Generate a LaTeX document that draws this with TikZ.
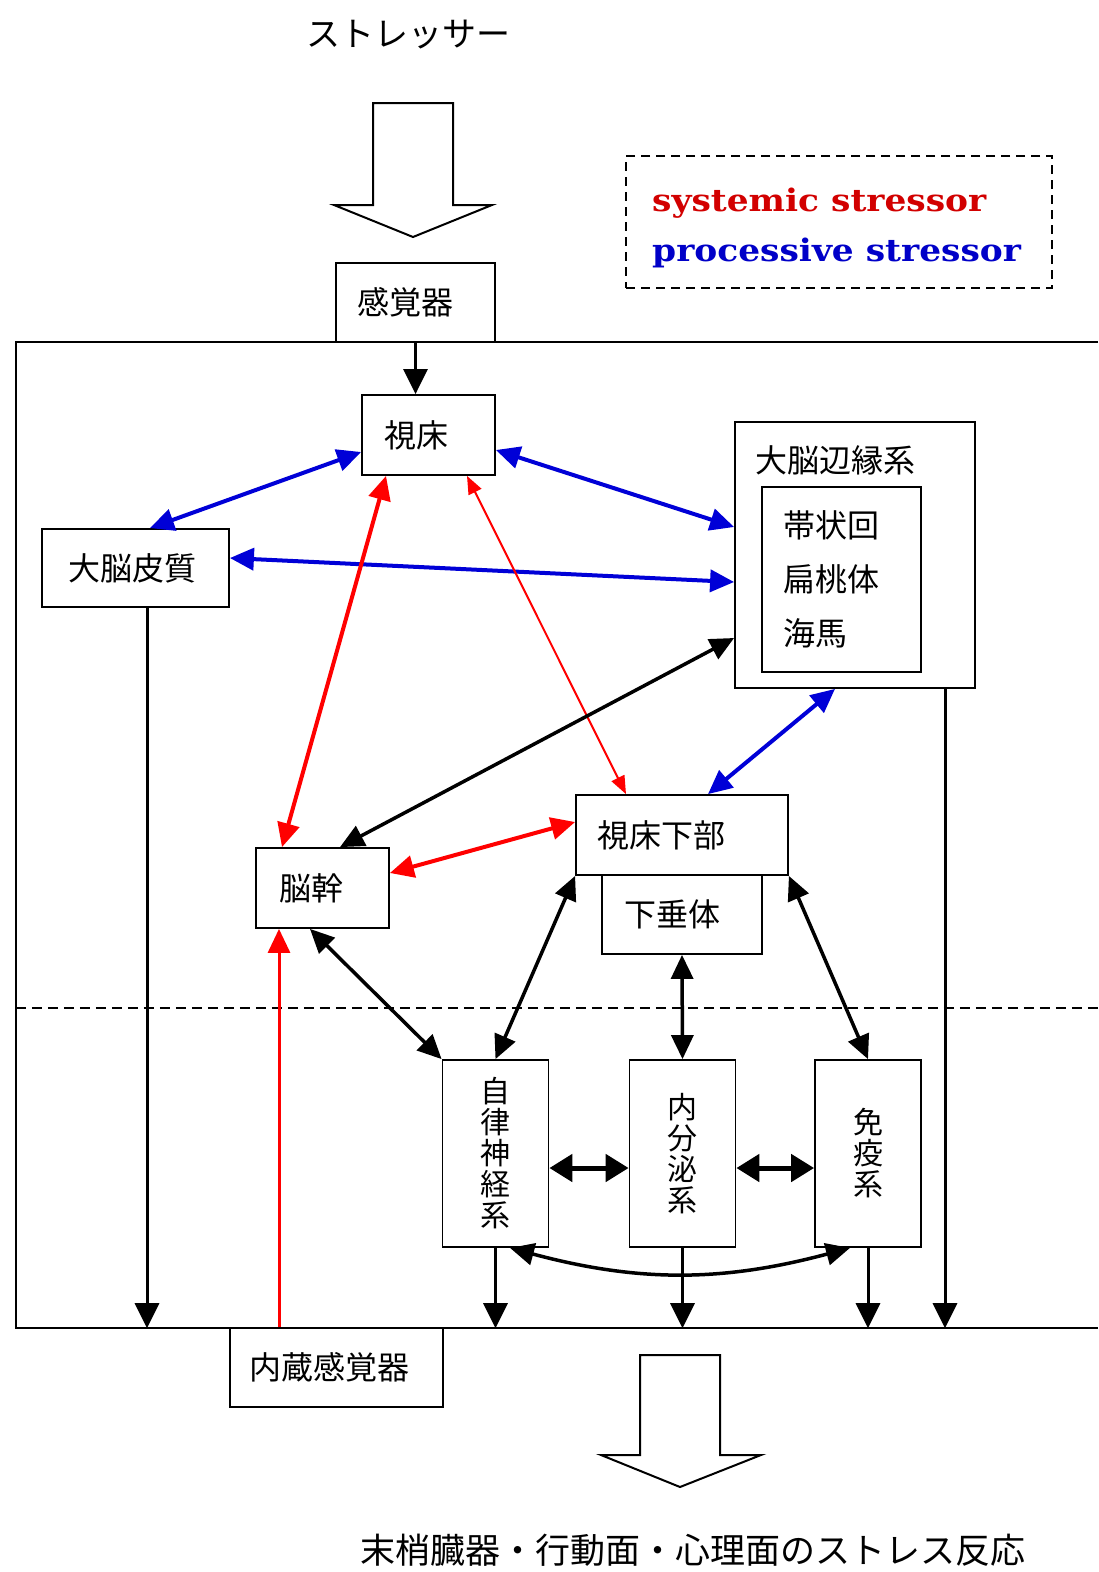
\documentclass[tikz,border=0pt]{standalone}
\usepackage{fontspec}
\newfontfamily\jp{Noto Sans CJK JP}
\newfontfamily\lgd{DejaVu Serif}
\usetikzlibrary{arrows.meta,calc}
\definecolor{arrred}{RGB}{255,0,0}
\definecolor{arrblue}{RGB}{0,0,215}
\definecolor{txtred}{RGB}{210,0,0}
\definecolor{txtblue}{RGB}{0,0,200}
\begin{document}
\begin{tikzpicture}[x=1pt,y=-1pt,
  box/.style={draw, line width=1.8pt, inner ysep=0pt, align=left, font=\jp\fontsize{32}{36}\selectfont},
  vbox/.style={draw, line width=1.8pt, inner sep=0pt, align=center, minimum width=106pt, minimum height=187pt, font=\jp\fontsize{30}{31}\selectfont},
  plain/.style={inner sep=0pt, font=\jp\fontsize{32}{36}\selectfont},
  lgtext/.style={anchor=base west, inner sep=0pt, font=\lgd\bfseries\fontsize{31}{33}\selectfont},
  bl/.style={line width=4pt, draw=arrblue, arrows={Triangle[length=24pt,width=22pt]-Triangle[length=24pt,width=22pt]}},
  rd/.style={line width=4pt, draw=arrred, arrows={Triangle[length=24pt,width=22pt]-Triangle[length=24pt,width=22pt]}},
  rdthin/.style={line width=2pt, draw=arrred, arrows={Triangle[length=18pt,width=14pt]-Triangle[length=18pt,width=14pt]}},
  rdup/.style={line width=3pt, draw=arrred, arrows={-Triangle[length=24pt,width=22pt]}},
  bk/.style={line width=3.5pt, draw=black, arrows={Triangle[length=24pt,width=22pt]-Triangle[length=24pt,width=22pt]}},
  bkshort/.style={line width=5pt, draw=black, arrows={Triangle[length=23pt,width=27pt]-Triangle[length=23pt,width=27pt]}},
  bkdown/.style={line width=3pt, draw=black, arrows={-Triangle[length=25pt,width=24pt]}},
  hollow/.style={draw, line width=2pt, fill=white, line join=miter}
]
\useasboundingbox (0,0) rectangle (1098,1572);
\fill[white] (0,0) rectangle (1098,1572);

% top text and hollow arrow
\node[plain, font=\jp\fontsize{34}{36}\selectfont] (stressor) at (408,35) {ストレッサー};
\draw[hollow] (373,103) -- (453,103) -- (453,205) -- (492,205) -- (413,237) -- (334,205) -- (373,205) -- cycle;

% legend
\node[draw, dashed, dash pattern=on 9pt off 6pt, line width=2pt, minimum width=426pt, minimum height=132pt, inner sep=0pt] (legend) at (839,222) {};
\node[lgtext, text=txtred] (lgsys) at (652,211) {\scalebox{1.11}[1]{systemic stressor}};
\node[lgtext, text=txtblue] (lgproc) at (652,261) {\scalebox{1.11}[1]{processive stressor}};

% main frame
\node[inner sep=0pt, minimum width=1082pt, minimum height=986pt] (mainbox) at (557,835) {};
\draw[line width=2pt] (mainbox.north east) -- (mainbox.north west) -- (mainbox.south west) -- (mainbox.south east);
\draw[line width=2pt, dash pattern=on 10pt off 6pt] (mainbox.west |- 0,1008) -- (mainbox.east |- 0,1008);

% boxes
\node[box, fill=white, text width=117pt, inner xsep=21pt, minimum height=79pt] (kankaku) at (415.5,302.5) {感覚器};
\node[box, text width=89pt, inner xsep=22pt, minimum height=80pt] (shisho) at (428.5,435) {視床};
\node[box, text width=135pt, inner xsep=26pt, minimum height=78pt] (kotai) at (135.5,568) {大脳皮質};
\node[draw, line width=1.8pt, minimum width=240pt, minimum height=266pt, inner sep=0pt] (limbic) at (855,555) {};
\node[plain, anchor=west] (limbtitle) at (755,460) {大脳辺縁系};
\node[box, text width=117pt, inner xsep=21pt, minimum height=185pt, font=\jp\fontsize{32}{54}\selectfont] (limbin) at (841.5,579.5) {帯状回\\扁桃体\\海馬};
\node[box, text width=87pt, inner xsep=23pt, minimum height=80pt] (nokan) at (322.5,888) {脳幹};
\node[box, text width=170pt, inner xsep=21pt, minimum height=80pt] (hypo) at (682,835) {視床下部};
\node[box, text width=116pt, inner xsep=22pt, minimum height=79pt] (pit) at (682,914.5) {下垂体};
\node[vbox] (jir) at (495.5,1153.5) {自\\律\\神\\経\\系};
\node[vbox] (naib) at (682.5,1153.5) {内\\分\\泌\\系};
\node[vbox] (men) at (868,1153.5) {免\\疫\\系};
\node[box, text width=175pt, inner xsep=19pt, minimum height=79pt] (naizo) at (336.5,1367.5) {内蔵感覚器};

% bottom hollow arrow and text
\draw[hollow] (640,1355) -- (720,1355) -- (720,1455) -- (761,1455) -- (680,1487) -- (601,1455) -- (640,1455) -- cycle;
\node[plain, font=\jp\fontsize{35}{36}\selectfont] (response) at (693,1550) {末梢臓器・行動面・心理面のストレス反応};

% connectors
\draw[bkdown] (kankaku.south) -- (kankaku.south |- shisho.north);
\draw[bl] ([yshift=-17pt]shisho.west) -- ([xshift=14.5pt]kotai.north);
\draw[bl] ([yshift=-15pt]shisho.east) -- ([yshift=28pt]limbic.west);
\draw[bl] ([yshift=10pt]kotai.east) -- ([yshift=-27pt]limbic.west);
\draw[bl] ([xshift=-20pt]limbic.south) -- ([xshift=26pt]hypo.north);
\draw[rd] ([xshift=-42.5pt]shisho.south) -- ([xshift=-40.5pt]nokan.north);
\draw[rdthin] ([xshift=38.5pt]shisho.south) -- ([xshift=-56pt]hypo.north);
\draw[rd] ([yshift=15pt]nokan.east) -- ([yshift=13pt]hypo.west);
\draw[rdup] ([xshift=-57.5pt]naizo.north) -- ([xshift=-43.5pt]nokan.south);
\draw[bk] ([yshift=-83pt]limbic.west) -- ([xshift=17.5pt]nokan.north);
\draw[bk] ([xshift=-12.5pt]nokan.south) -- (jir.north west);
\draw[bk] (hypo.south west) -- (jir.north);
\draw[bk] (pit.south) -- (naib.north);
\draw[bk] (hypo.south east) -- (men.north);
\draw[bkshort] ([yshift=-14.5pt]jir.east) -- ([yshift=-14.5pt]naib.west);
\draw[bkshort] ([yshift=-14.5pt]naib.east) -- ([yshift=-14.5pt]men.west);
\draw[bk] ([xshift=14.5pt]jir.south) to[bend right=15] ([xshift=-18pt]men.south);

% down arrows to the frame bottom
\coordinate (dk) at ([xshift=11.5pt]kotai.south);
\coordinate (dl) at ([xshift=90pt]limbic.south);
\draw[bkdown] (dk) -- (dk |- mainbox.south);
\draw[bkdown] (jir.south) -- (jir.south |- mainbox.south);
\draw[bkdown] (naib.south) -- (naib.south |- mainbox.south);
\draw[bkdown] (men.south) -- (men.south |- mainbox.south);
\draw[bkdown] (dl) -- (dl |- mainbox.south);
\end{tikzpicture}
\end{document}
